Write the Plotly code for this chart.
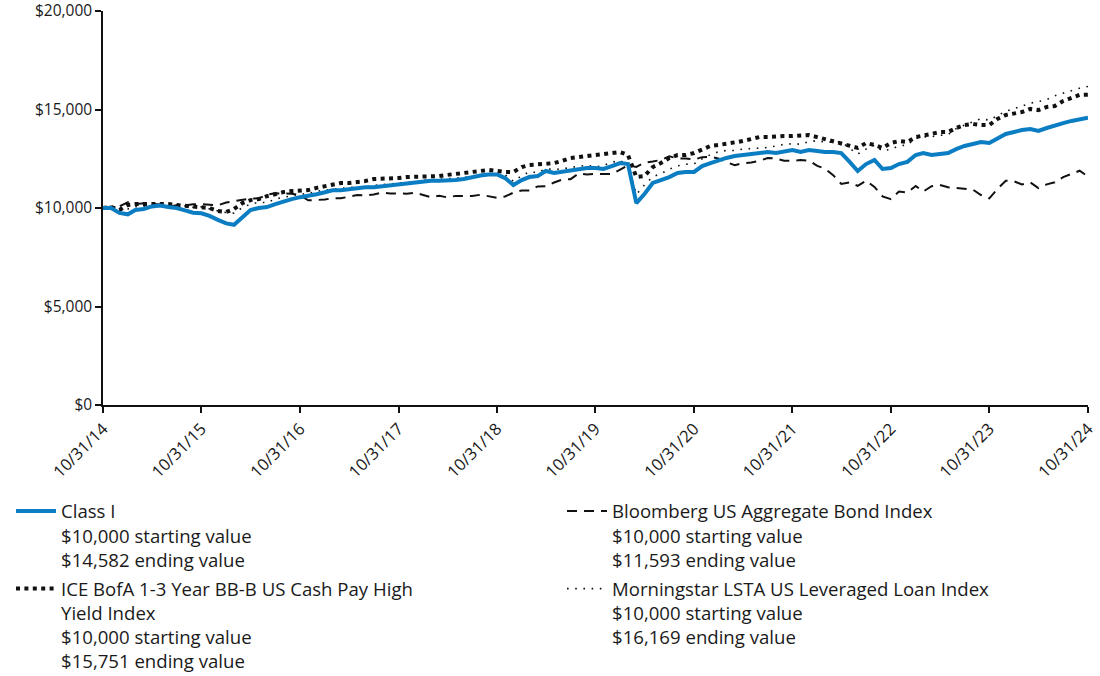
import plotly.graph_objects as go
import pandas as pd

dates = pd.date_range("2014-10-31", "2024-10-31", freq="ME").strftime("%Y-%m-%d").tolist()

class_i = [10000, 10000, 9750, 9680, 9900, 9950, 10080, 10130, 10050, 10000, 9880, 9760, 9730,
           9600, 9400, 9220, 9150, 9550, 9900, 10000, 10050, 10200, 10350, 10450, 10550,
           10600, 10700, 10800, 10900, 10900, 10950, 11000, 11050, 11050, 11100, 11150, 11200,
           11250, 11300, 11380, 11380, 11380, 11380, 11420, 11470, 11570, 11650, 11700, 11700,
           11520, 11170, 11420, 11570, 11620, 11880, 11780, 11830, 11930, 11980, 12030, 12030,
           11980, 12130, 12280, 12230, 10250, 10710, 11270, 11420, 11570, 11780, 11830, 11830,
           12130, 12280, 12440, 12540, 12640, 12690, 12740, 12790, 12840, 12790, 12840, 12940,
           12840, 12940, 12890, 12840, 12840, 12790, 12340, 11880, 12230, 12440, 11980, 12030,
           12230, 12340, 12690, 12790, 12690, 12740, 12790, 12990, 13150, 13250, 13350, 13300,
           13500, 13760, 13860, 13960, 14010, 13910, 14060, 14160, 14310, 14420, 14520, 14582]

bloomberg = [10000, 10071, 10080, 10292, 10195, 10242, 10205, 10181, 10070, 10140, 10126, 10195, 10197,
             10170, 10138, 10278, 10351, 10446, 10486, 10489, 10678, 10745, 10733, 10727, 10645,
             10393, 10407, 10428, 10498, 10493, 10574, 10655, 10644, 10690, 10786, 10734, 10741,
             10727, 10776, 10652, 10551, 10619, 10540, 10615, 10602, 10604, 10672, 10604, 10520,
             10583, 10778, 10892, 10886, 11095, 11098, 11296, 11438, 11463, 11760, 11698, 11733,
             11727, 11719, 11944, 12159, 12087, 12302, 12360, 12438, 12623, 12521, 12515, 12459,
             12581, 12599, 12508, 12328, 12174, 12270, 12311, 12397, 12536, 12512, 12403, 12399,
             12436, 12404, 12137, 12001, 11667, 11225, 11297, 11120, 11391, 11069, 10591, 10453,
             10838, 10789, 11121, 10833, 11108, 11176, 11054, 11014, 11006, 10936, 10658, 10490,
             10965, 11385, 11354, 11194, 11297, 11011, 11198, 11305, 11570, 11736, 11893, 11593]

ice_bofa = [10000, 10050, 9900, 10150, 10200, 10200, 10250, 10250, 10200, 10150, 10100, 10050, 10050,
            10000, 9850, 9800, 9950, 10250, 10400, 10450, 10600, 10710, 10810, 10860, 10860,
            10910, 11020, 11120, 11220, 11270, 11270, 11320, 11370, 11470, 11470, 11520, 11520,
            11570, 11570, 11620, 11620, 11620, 11680, 11730, 11780, 11830, 11880, 11930, 11880,
            11830, 11830, 12080, 12180, 12230, 12280, 12280, 12390, 12540, 12590, 12640, 12690,
            12740, 12790, 12840, 12690, 11570, 11620, 12080, 12280, 12540, 12690, 12690, 12790,
            12990, 13150, 13200, 13250, 13350, 13400, 13500, 13600, 13600, 13650, 13650, 13650,
            13650, 13700, 13600, 13500, 13400, 13300, 13200, 13050, 13300, 13200, 13050, 13300,
            13400, 13350, 13600, 13700, 13760, 13860, 13860, 14060, 14210, 14260, 14210, 14210,
            14520, 14720, 14820, 14870, 15030, 14970, 15130, 15180, 15430, 15580, 15740, 15751]

morningstar = [10000, 9990, 9920, 9950, 10070, 10080, 10150, 10180, 10120, 10140, 10100, 10030, 10060,
               9950, 9850, 9770, 9740, 10020, 10200, 10290, 10270, 10460, 10540, 10630, 10700,
               10730, 10850, 10910, 10960, 10980, 11040, 11060, 11070, 11150, 11170, 11220, 11270,
               11280, 11300, 11410, 11440, 11470, 11510, 11530, 11540, 11630, 11690, 11770, 11800,
               11690, 11350, 11640, 11830, 11800, 11990, 11960, 11980, 12060, 12120, 12170, 12090,
               12150, 12330, 12400, 12200, 10690, 11170, 11590, 11740, 11970, 12140, 12220, 12240,
               12500, 12710, 12860, 12920, 12920, 12990, 13020, 13070, 13070, 13150, 13230, 13260,
               13240, 13370, 13420, 13340, 13340, 13360, 13030, 12740, 12990, 13190, 12890, 12990,
               13150, 13200, 13550, 13610, 13620, 13690, 13720, 14030, 14210, 14390, 14530, 14460,
               14670, 14920, 15040, 15180, 15320, 15400, 15500, 15700, 15830, 15960, 16080, 16169]

tick_dates = ["2014-10-31", "2015-10-31", "2016-10-31", "2017-10-31", "2018-10-31", "2019-10-31",
              "2020-10-31", "2021-10-31", "2022-10-31", "2023-10-31", "2024-10-31"]
tick_labels = ["10/31/14", "10/31/15", "10/31/16", "10/31/17", "10/31/18", "10/31/19",
               "10/31/20", "10/31/21", "10/31/22", "10/31/23", "10/31/24"]
y_ticks = [0, 5000, 10000, 15000, 20000]

names = {
    "ci": "Class I<br>$10,000 starting value<br>$14,582 ending value",
    "bb": "Bloomberg US Aggregate Bond Index<br>$10,000 starting value<br>$11,593 ending value",
    "ice": "ICE BofA 1-3 Year BB-B US Cash Pay High<br>Yield Index<br>$10,000 starting value<br>$15,751 ending value",
    "ms": "Morningstar LSTA US Leveraged Loan Index<br>$10,000 starting value<br>$16,169 ending value",
}

FONT = "Open Sans"
fig = go.Figure()
fig.add_trace(go.Scatter(x=dates, y=morningstar, mode="lines", name=names["ms"], legend="legend2",
                         legendgroup="ms", legendrank=2,
                         line=dict(color="#111111", width=1.6, dash="1.6px,6.6px")))
fig.add_trace(go.Scatter(x=dates, y=bloomberg, mode="lines", name=names["bb"], legend="legend2",
                         legendgroup="bb", legendrank=1,
                         line=dict(color="#111111", width=2, dash="10px,7px")))
fig.add_trace(go.Scatter(x=dates, y=ice_bofa, mode="lines", name=names["ice"], legend="legend",
                         legendgroup="ice", legendrank=2,
                         line=dict(color="#111111", width=4, dash="4px,4.4px")))
fig.add_trace(go.Scatter(x=dates, y=class_i, mode="lines", name=names["ci"], legend="legend",
                         legendgroup="ci", legendrank=1, line=dict(color="#0b7dc3", width=4)))

leg_common = dict(orientation="v", xanchor="left", yanchor="top", valign="top",
                  font=dict(family=FONT, size=18.6, color="#1a1a1a"), bgcolor="rgba(0,0,0,0)",
                  itemwidth=40, traceorder="grouped", tracegroupgap=2)
fig.update_layout(
    width=1100, height=676,
    margin=dict(l=103, r=12, t=11, b=271, autoexpand=False),
    paper_bgcolor="white", plot_bgcolor="white",
    font=dict(family=FONT, size=15, color="#1a1a1a"),
    showlegend=True,
    legend=dict(x=-0.0934, y=-0.222, **leg_common),
    legend2=dict(x=0.466, y=-0.222, **leg_common),
    xaxis=dict(range=[tick_dates[0], tick_dates[-1]], tickvals=tick_dates, ticktext=tick_labels,
               tickangle=-45, showgrid=False, zeroline=False, showline=True, linecolor="#111111",
               linewidth=1.5, ticks="outside", ticklen=6, tickwidth=1.5, tickcolor="#111111",
               ticklabeloverflow="allow",
               tickfont=dict(family=FONT, size=16.5, color="#1a1a1a")),
    yaxis=dict(range=[0, 20000], tickvals=y_ticks, tickformat="$,.0f", showgrid=False,
               zeroline=False, showline=True, linecolor="#111111", linewidth=1.5,
               ticks="outside", ticklen=6, tickwidth=1.5, tickcolor="#111111",
               ticklabeloverflow="allow",
               tickfont=dict(family=FONT, size=15.5, color="#1a1a1a")),
)

fig.write_html("out.html", config={"displayModeBar": False},
               post_script="document.body.style.margin='0px';")
